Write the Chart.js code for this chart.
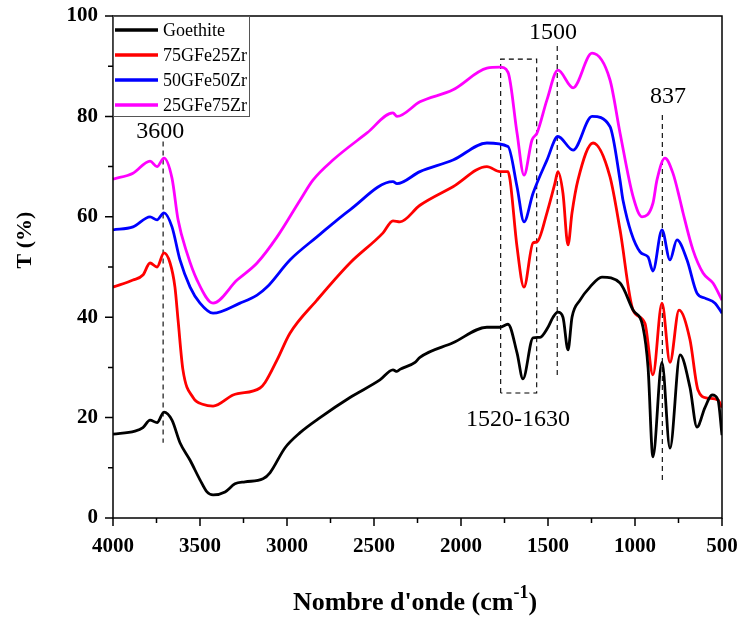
<!DOCTYPE html>
<html>
<head>
<meta charset="utf-8">
<script src="https://cdn.jsdelivr.net/npm/chart.js@4.4.1/dist/chart.umd.min.js"></script>
<style>
  html, body { margin: 0; padding: 0; background: #fff; }
  canvas { display: block; }
</style>
</head>
<body>
<canvas id="ftirChart" width="742" height="621"></canvas>
<script>
// data (wavenumber cm-1, transmittance %)
var seriesNames = ['Goethite', '75GFe25Zr', '50GFe50Zr', '25GFe75Zr'];

var goethiteWn = [4000, 3874, 3828, 3787, 3747, 3707, 3661, 3615, 3557, 3500, 3460, 3425, 3356, 3299, 3241, 3138, 3098, 3011, 2925, 2810, 2638, 2466, 2391, 2368, 2351, 2264, 2236, 2046, 1851, 1776, 1730, 1678, 1644, 1586, 1546, 1500, 1471, 1443, 1414, 1385, 1362, 1316, 1259, 1190, 1086, 1011, 954, 925, 897, 845, 799, 741, 684, 644, 598, 557, 523, 500];
var goethiteT  = [16.7, 17.3, 18.0, 19.5, 19.0, 21.1, 19.5, 15.0, 11.5, 7.6, 5.2, 4.6, 5.2, 6.8, 7.2, 7.8, 9.0, 14.0, 17.0, 20.0, 24.0, 27.5, 29.5, 29.2, 29.6, 31.0, 32.0, 34.9, 38.0, 38.0, 38.6, 32.9, 27.7, 35.9, 36.0, 38.0, 40.0, 41.0, 40.0, 33.5, 40.0, 43.4, 46.0, 48.0, 46.8, 41.4, 38.0, 30.0, 12.2, 31.0, 13.9, 32.5, 26.0, 18.1, 22.0, 24.5, 23.5, 16.5];

var gfe75Wn = [4000, 3885, 3828, 3787, 3747, 3707, 3672, 3644, 3626, 3598, 3540, 3480, 3425, 3310, 3155, 3126, 3057, 2983, 2828, 2638, 2448, 2391, 2351, 2236, 2046, 1851, 1776, 1730, 1718, 1678, 1638, 1586, 1563, 1506, 1460, 1443, 1414, 1385, 1362, 1328, 1241, 1144, 1086, 1011, 943, 897, 845, 799, 747, 684, 638, 586, 523, 500];
var gfe75T  = [46.0, 47.4, 48.4, 50.8, 50.0, 52.8, 50.8, 46.0, 39.4, 29.5, 24.0, 22.6, 22.3, 24.5, 25.9, 27.0, 31.5, 36.8, 43.4, 50.8, 56.8, 59.2, 59.0, 62.3, 66.0, 70.0, 69.0, 69.0, 67.3, 54.0, 46.0, 54.8, 55.0, 60.8, 66.7, 69.0, 64.7, 54.4, 60.8, 67.3, 74.7, 68.0, 57.4, 41.4, 38.8, 28.5, 42.8, 31.0, 41.4, 35.5, 25.5, 23.9, 23.5, 22.0];

var gfe50Wn = [4000, 3885, 3787, 3747, 3707, 3661, 3615, 3557, 3500, 3425, 3270, 3172, 3115, 2983, 2828, 2638, 2391, 2368, 2236, 2046, 1851, 1730, 1678, 1638, 1586, 1506, 1443, 1356, 1247, 1144, 1086, 1069, 971, 925, 897, 845, 799, 759, 701, 644, 598, 540, 500];
var gfe50T  = [57.4, 58.0, 60.0, 59.4, 60.8, 58.0, 51.4, 46.0, 42.8, 40.8, 42.8, 44.4, 46.0, 51.4, 56.0, 61.4, 67.0, 66.6, 69.0, 71.3, 74.7, 74.0, 66.0, 59.0, 64.7, 71.3, 76.0, 73.3, 80.0, 78.0, 67.3, 63.3, 53.0, 52.0, 49.2, 57.4, 51.4, 55.4, 51.4, 44.8, 43.8, 42.8, 40.8];

var gfe25Wn = [4000, 3885, 3787, 3747, 3707, 3661, 3626, 3575, 3517, 3425, 3287, 3172, 3057, 2925, 2851, 2736, 2540, 2391, 2368, 2236, 2046, 1851, 1776, 1730, 1678, 1638, 1592, 1563, 1506, 1443, 1356, 1247, 1144, 1086, 1011, 960, 897, 874, 828, 782, 741, 724, 667, 609, 552, 500];
var gfe25T  = [67.5, 68.7, 71.1, 70.0, 71.7, 67.7, 59.4, 52.8, 47.4, 42.8, 47.4, 50.8, 56.0, 63.3, 67.3, 71.3, 76.7, 80.7, 80.0, 82.9, 85.3, 89.6, 89.8, 88.8, 76.7, 68.3, 75.3, 76.7, 83.3, 89.2, 85.7, 92.6, 87.3, 76.7, 64.0, 60.0, 62.7, 67.3, 71.7, 68.7, 63.3, 60.8, 53.4, 48.8, 46.8, 43.4];

// axis ticks
var xTickValues = [4000, 3500, 3000, 2500, 2000, 1500, 1000, 500];
var yTickValues = [0, 20, 40, 60, 80, 100];

// dashed marker lines and box (wavenumber, T)
var mark3600Wn = [3712, 3712];      var mark3600T = [75, 15];
var mark1500Wn = [1447, 1447];      var mark1500T = [94, 28];
var mark837Wn  = [843, 843];        var mark837T  = [80.3, 7.2];
var boxWn = [1772, 1772, 1565, 1565, 1772];
var boxT  = [24.9, 91.4, 91.4, 24.9, 24.9];

var peakLabels = ['3600', '1500', '837', '1520-1630'];
var peakLabelWn = [3728, 1471, 810, 1672];
var peakLabelT  = [76.9, 96.6, 83.9, 19.5];

function toPoints(xs, ys) {
    return xs.map(function (v, i) { return { x: v, y: ys[i] }; });
}

var colors = ['#000000', '#ff0000', '#0000ff', '#ff00ff'];
var wnSets = [goethiteWn, gfe75Wn, gfe50Wn, gfe25Wn];
var tSets = [goethiteT, gfe75T, gfe50T, gfe25T];

var datasets = seriesNames.map(function (name, i) {
    return {
        label: name,
        data: toPoints(wnSets[i], tSets[i]),
        borderColor: colors[i],
        borderWidth: 2.8,
        pointRadius: 0,
        fill: false,
        cubicInterpolationMode: 'monotone'
    };
});

function dashed(xs, ys) {
    return {
        label: '',
        data: toPoints(xs, ys),
        borderColor: '#000',
        borderWidth: 1.1,
        borderDash: [5, 4],
        pointRadius: 0,
        fill: false,
        tension: 0
    };
}
datasets.push(dashed(mark3600Wn, mark3600T));
datasets.push(dashed(mark1500Wn, mark1500T));
datasets.push(dashed(mark837Wn, mark837T));
datasets.push(dashed(boxWn, boxT));

// frame, ticks, tick labels, legend, titles and labels
var decorPlugin = {
    id: 'decor',
    afterDraw: function (chart) {
        var ctx = chart.ctx;
        var a = chart.chartArea;
        var xs = chart.scales.x, ys = chart.scales.y;
        ctx.save();
        ctx.strokeStyle = '#000';
        ctx.lineWidth = 1.5;
        ctx.strokeRect(a.left, a.top, a.right - a.left, a.bottom - a.top);

        ctx.beginPath();
        for (var v = 500; v <= 4000; v += 250) {
            var px = xs.getPixelForValue(v);
            ctx.moveTo(px, a.bottom);
            ctx.lineTo(px, a.bottom + (v % 500 === 0 ? 8 : 5));
        }
        for (var t = 0; t <= 100; t += 10) {
            var py = ys.getPixelForValue(t);
            ctx.moveTo(a.left, py);
            ctx.lineTo(a.left - (t % 20 === 0 ? 8 : 5), py);
        }
        ctx.stroke();

        // tick labels
        ctx.fillStyle = '#000';
        ctx.font = 'bold 21px "Liberation Serif"';
        ctx.textAlign = 'center';
        ctx.textBaseline = 'middle';
        xTickValues.forEach(function (val) {
            ctx.fillText(String(val), xs.getPixelForValue(val), a.bottom + 29);
        });
        ctx.textAlign = 'right';
        yTickValues.forEach(function (val) {
            ctx.fillText(String(val), a.left - 15, ys.getPixelForValue(val));
        });

        // legend
        ctx.lineWidth = 1;
        ctx.strokeStyle = '#555';
        ctx.strokeRect(a.left + 0.5, a.top + 0.5, 136, 100);
        ctx.font = '18px "Liberation Serif"';
        ctx.textBaseline = 'middle';
        ctx.textAlign = 'left';
        seriesNames.forEach(function (name, i) {
            var yy = a.top + 14 + i * 25;
            ctx.strokeStyle = colors[i];
            ctx.lineWidth = 3.5;
            ctx.beginPath();
            ctx.moveTo(a.left + 2, yy);
            ctx.lineTo(a.left + 45, yy);
            ctx.stroke();
            ctx.fillStyle = '#000';
            ctx.fillText(name, a.left + 50, yy + 1);
        });

        // peak labels
        ctx.font = '24px "Liberation Serif"';
        ctx.textAlign = 'center';
        ctx.fillStyle = '#000';
        peakLabels.forEach(function (txt, i) {
            ctx.fillText(txt, xs.getPixelForValue(peakLabelWn[i]), ys.getPixelForValue(peakLabelT[i]));
        });

        // y title
        ctx.save();
        ctx.translate(25, 240);
        ctx.rotate(-Math.PI / 2);
        ctx.font = 'bold 22px "Liberation Serif"';
        ctx.textAlign = 'center';
        ctx.fillText('T (%)', 0, 0);
        ctx.restore();

        // x title with superscript
        var main = "Nombre d'onde (cm";
        ctx.textAlign = 'left';
        ctx.textBaseline = 'alphabetic';
        ctx.font = 'bold 26px "Liberation Serif"';
        var w1 = ctx.measureText(main).width;
        var w3 = ctx.measureText(')').width;
        ctx.font = 'bold 18px "Liberation Serif"';
        var w2 = ctx.measureText('-1').width;
        var x0 = 415 - (w1 + w2 + w3) / 2;
        var base = 610;
        ctx.font = 'bold 26px "Liberation Serif"';
        ctx.fillText(main, x0, base);
        ctx.font = 'bold 18px "Liberation Serif"';
        ctx.fillText('-1', x0 + w1, base - 12);
        ctx.font = 'bold 26px "Liberation Serif"';
        ctx.fillText(')', x0 + w1 + w2, base);
        ctx.restore();
    }
};

var ctx = document.getElementById('ftirChart').getContext('2d');
var ftirChart = new Chart(ctx, {
    type: 'line',
    data: { datasets: datasets },
    options: {
        responsive: false,
        animation: false,
        layout: { padding: { top: 16, right: 20, left: 0, bottom: 0 } },
        scales: {
            x: {
                type: 'linear',
                min: 500,
                max: 4000,
                reverse: true,
                afterFit: function (scale) { scale.height = 103; },
                grid: { display: false },
                border: { display: false },
                ticks: { display: false }
            },
            y: {
                min: 0,
                max: 100,
                afterFit: function (scale) { scale.width = 113; },
                grid: { display: false },
                border: { display: false },
                ticks: { display: false }
            }
        },
        plugins: {
            legend: { display: false },
            tooltip: { enabled: false }
        }
    },
    plugins: [decorPlugin]
});
</script>
</body>
</html>
